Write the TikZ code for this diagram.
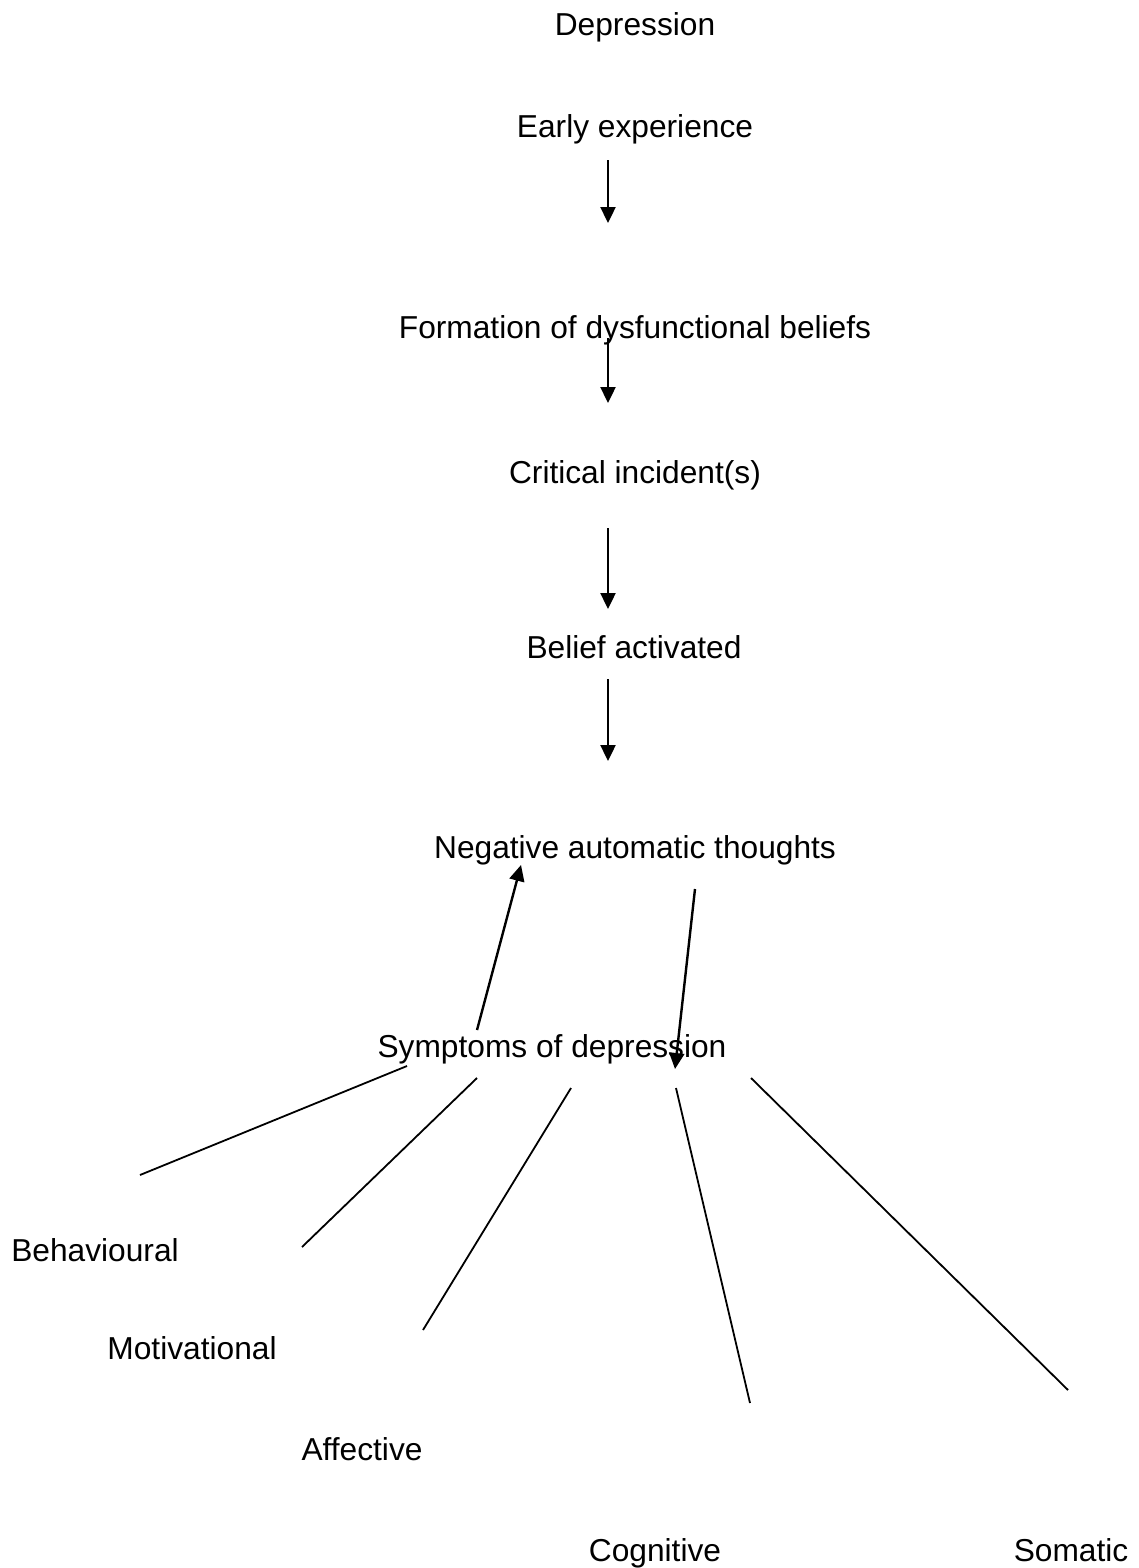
\documentclass[tikz,border=0pt]{standalone}
\usepackage{fontspec}
\setmainfont{Liberation Sans}
\usetikzlibrary{arrows.meta}
\begin{document}
\begin{tikzpicture}[x=1pt,y=-1pt,
  lbl/.style={anchor=base,inner sep=0pt,font=\fontsize{31.7}{38}\selectfont},
  arr/.style={line width=2.4pt,-{Triangle[length=16pt,width=15pt]}},
  ln/.style={line width=1.8pt}]
\useasboundingbox[fill=white] (0,0) rectangle (1138,1568);
\node[lbl] (dep) at (635,36) {Depression};
\node[lbl] (early) at (635,137) {Early experience};
\node[lbl] (form) at (635,338) {Formation of dysfunctional beliefs};
\node[lbl] (crit) at (635,483) {Critical incident(s)};
\node[lbl] (bel) at (634,658) {Belief activated};
\node[lbl] (nat) at (635,858) {Negative automatic thoughts};
\node[lbl] (sym) at (552,1057) {Symptoms of depression};
\node[lbl] (beh) at (95,1261) {Behavioural};
\node[lbl] (mot) at (192,1359) {Motivational};
\node[lbl] (aff) at (362,1460) {Affective};
\node[lbl] (cog) at (655,1561) {Cognitive};
\node[lbl] (som) at (1071,1561) {Somatic};
% arrow end points
\coordinate (a1s) at (608,160); \coordinate (a1e) at (608,223);
\coordinate (a2s) at (608,338); \coordinate (a2e) at (608,403);
\coordinate (a3s) at (608,528); \coordinate (a3e) at (608,609);
\coordinate (a4s) at (608,679); \coordinate (a4e) at (608,761);
\coordinate (ups) at (477,1030); \coordinate (upe) at (521,865);
\coordinate (dns) at (695,889); \coordinate (dne) at (675,1069);
\draw[arr] (a1s) -- (a1e);
\draw[arr] (a2s) -- (a2e);
\draw[arr] (a3s) -- (a3e);
\draw[arr] (a4s) -- (a4e);
\draw[arr] (ups) -- (upe);
\draw[arr] (dns) -- (dne);
% symptom lines
\coordinate (l1s) at (407,1066); \coordinate (l1e) at (140,1175);
\coordinate (l2s) at (477,1078); \coordinate (l2e) at (302,1247);
\coordinate (l3s) at (571,1088); \coordinate (l3e) at (423,1330);
\coordinate (l4s) at (676,1088); \coordinate (l4e) at (750,1403);
\coordinate (l5s) at (751,1078); \coordinate (l5e) at (1068,1390);
\draw[ln] (l1s) -- (l1e);
\draw[ln] (l2s) -- (l2e);
\draw[ln] (l3s) -- (l3e);
\draw[ln] (l4s) -- (l4e);
\draw[ln] (l5s) -- (l5e);
\end{tikzpicture}
\end{document}
